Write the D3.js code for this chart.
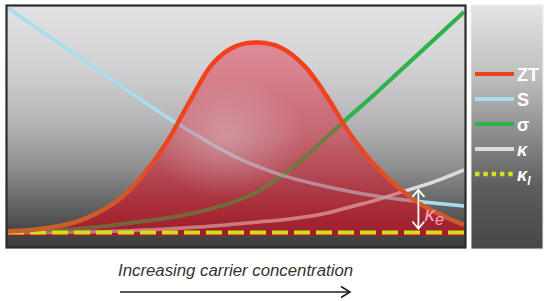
<!DOCTYPE html>
<html>
<head>
<meta charset="utf-8">
<script src="https://cdn.jsdelivr.net/npm/d3@7"></script>
<style>
  html, body { margin: 0; padding: 0; background: #fff; }
  svg { display: block; }
</style>
</head>
<body>
<div id="chart"></div>
<script>
'use strict';

// carrier concentration (arbitrary units, left -> right)
const conc = [0, 5, 10, 15, 20, 25, 30, 35, 40, 45, 50, 55, 60, 65, 70, 75, 80, 85, 90, 95, 100];

// values (arbitrary units, 0 = lattice kappa level)
const zt = [0.5, 1.1, 2.5, 4.7, 9.1, 15.8, 26.5, 40.8, 59, 75.5, 83, 84.6, 82.2, 74.2, 60.4, 43.9, 31, 21.2, 13.2, 7.8, 3.4];
const seebeck = [100, 93, 86, 79, 72, 65, 58, 51.2, 45, 39, 33.6, 29.2, 25.6, 22.8, 20.4, 18.3, 16.5, 15, 13.8, 12.8, 11.8];
const sigma = [0.3, 0.5, 1.1, 1.6, 2.5, 3.8, 5.1, 6.5, 8.3, 10.9, 14, 18.5, 25.2, 33.2, 42.6, 51.9, 60.8, 70.2, 79.5, 88.9, 98.2];
const kappa = [0, 0, 0.1, 0.2, 0.3, 0.7, 1.1, 1.6, 2.2, 2.9, 3.8, 4.7, 5.6, 6.9, 8.7, 11.4, 14, 17.2, 20.3, 23.8, 27.9];
const kappaL = 0;
const kappaEAt = 90; // where the kappa_e arrow sits

const legendKeys = ['ZT', 'S', 'σ', 'κ', 'κl'];
const axisLabel = 'Increasing carrier concentration';

const colors = {
    ZT: '#f0421d',
    S: '#a8dfea',
    'σ': '#2eb24b',
    'κ': '#dcdcdc',
    'κl': '#d3df1d'
};

const width = 550, height = 301;
const plot = {left: 7, top: 6, right: 465, bottom: 247};

const svg = d3.select('#chart').append('svg')
    .attr('width', width)
    .attr('height', height)
    .attr('font-family', 'Liberation Sans, Arial, sans-serif');

const defs = svg.append('defs');

// background of the plot panel
const bg = defs.append('linearGradient')
    .attr('id', 'bg-grad')
    .attr('x1', 0).attr('y1', 0).attr('x2', 0).attr('y2', 1);
[[0, '#e2e2e4'], [0.25, '#d2d2d4'], [0.5, '#b2b2b4'], [0.68, '#8c8c8e'],
 [0.8, '#6a6a6c'], [0.92, '#4a4a4c'], [1, '#3c3c3e']].forEach(s => {
    bg.append('stop').attr('offset', s[0]).attr('stop-color', s[1]);
});

const lg = defs.append('linearGradient')
    .attr('id', 'legend-grad')
    .attr('x1', 0).attr('y1', 0).attr('x2', 0).attr('y2', 1);
[[0, '#e4e4e4'], [0.3, '#bdbdbd'], [0.55, '#888'], [0.75, '#5c5c5c'], [1, '#474747']].forEach(s => {
    lg.append('stop').attr('offset', s[0]).attr('stop-color', s[1]);
});

const fillGrad = defs.append('linearGradient')
    .attr('id', 'zt-fill')
    .attr('gradientUnits', 'userSpaceOnUse')
    .attr('x1', 0).attr('y1', 45).attr('x2', 0).attr('y2', 235);
[[0, '#e02d45', 0.45], [0.5, '#dc2336', 0.52], [0.85, '#cc1424', 0.66], [1, '#c01020', 0.72]].forEach(s => {
    fillGrad.append('stop').attr('offset', s[0]).attr('stop-color', s[1]).attr('stop-opacity', s[2]);
});

const ztStroke = defs.append('linearGradient')
    .attr('id', 'zt-stroke')
    .attr('gradientUnits', 'userSpaceOnUse')
    .attr('x1', 0).attr('y1', 40).attr('x2', 0).attr('y2', 232);
[[0, '#f3401c'], [0.55, '#ee4420'], [1, '#c8602c']].forEach(s => {
    ztStroke.append('stop').attr('offset', s[0]).attr('stop-color', s[1]);
});

const glow = defs.append('radialGradient').attr('id', 'glow');
glow.append('stop').attr('offset', 0).attr('stop-color', '#e8f0f4').attr('stop-opacity', 0.35);
glow.append('stop').attr('offset', 1).attr('stop-color', '#e8f0f4').attr('stop-opacity', 0);

defs.append('clipPath').attr('id', 'plot-clip')
    .append('rect')
    .attr('x', plot.left).attr('y', plot.top)
    .attr('width', plot.right - plot.left).attr('height', plot.bottom - plot.top);

const x = d3.scaleLinear().domain([0, 100]).range([8, 464]);
const y = d3.scaleLinear().domain([-6, 100]).range([246, 8]);

const rows = conc.map((c, i) => ({c, zt: zt[i], s: seebeck[i], sigma: sigma[i], kappa: kappa[i]}));

const line = (key, curve) => d3.line()
    .x(d => x(d.c))
    .y(d => y(d[key]))
    .curve(curve || d3.curveMonotoneX);

const smooth = d3.curveCatmullRom.alpha(0.5);

const thinLines = [
    {key: 'kappa', color: colors['κ'], w: 3.5},
    {key: 'sigma', color: colors['σ'], w: 4},
    {key: 's', color: colors.S, w: 3.5}
];

// panel
svg.append('rect')
    .attr('x', plot.left).attr('y', plot.top)
    .attr('width', plot.right - plot.left).attr('height', plot.bottom - plot.top)
    .attr('fill', 'url(#bg-grad)');

const g = svg.append('g').attr('clip-path', 'url(#plot-clip)');

// lines under the ZT fill
thinLines.forEach(l => {
    g.append('path').datum(rows)
        .attr('d', line(l.key))
        .attr('fill', 'none').attr('stroke', l.color).attr('stroke-width', l.w);
});

// ZT fill
const area = d3.area()
    .x(d => x(d.c))
    .y0(y(kappaL - 1.5))
    .y1(d => y(d.zt))
    .curve(smooth);

g.append('clipPath').attr('id', 'zt-clip')
    .append('path').datum(rows).attr('d', area);

g.append('path').datum(rows)
    .attr('d', area)
    .attr('fill', 'url(#zt-fill)');

g.append('ellipse')
    .attr('clip-path', 'url(#zt-clip)')
    .attr('cx', x(48)).attr('cy', y(42))
    .attr('rx', 80).attr('ry', 60)
    .attr('fill', 'url(#glow)');

// faint copy so the lines show through the fill a bit more
thinLines.forEach(l => {
    g.append('path').datum(rows)
        .attr('d', line(l.key))
        .attr('fill', 'none').attr('stroke', l.color).attr('stroke-width', l.w)
        .attr('opacity', 0.3);
});

// kappa_l dashed line
g.append('line')
    .attr('x1', x(0)).attr('x2', x(100))
    .attr('y1', y(kappaL)).attr('y2', y(kappaL))
    .attr('stroke', colors['κl'])
    .attr('stroke-width', 4)
    .attr('stroke-dasharray', '16 6');

// ZT curve on top
g.append('path').datum(rows)
    .attr('d', line('zt', smooth))
    .attr('fill', 'none')
    .attr('stroke', 'url(#zt-stroke)')
    .attr('stroke-width', 4.5);

// kappa_e arrow
const ke = rows.find(d => d.c === kappaEAt);
const ax = x(ke.c), ayTop = y(ke.kappa) + 3, ayBot = y(kappaL) - 4;
g.append('line')
    .attr('x1', ax).attr('x2', ax).attr('y1', ayTop).attr('y2', ayBot)
    .attr('stroke', '#fff').attr('stroke-width', 1.8);
g.append('path')
    .attr('d', `M${ax - 6},${ayTop + 7}L${ax},${ayTop}L${ax + 6},${ayTop + 7}`)
    .attr('fill', 'none').attr('stroke', '#fff').attr('stroke-width', 1.8);
g.append('path')
    .attr('d', `M${ax - 6},${ayBot - 7}L${ax},${ayBot}L${ax + 6},${ayBot - 7}`)
    .attr('fill', 'none').attr('stroke', '#fff').attr('stroke-width', 1.8);

const keLabel = g.append('text')
    .attr('x', ax + 6).attr('y', ayBot - 8)
    .attr('fill', '#f9a6bc')
    .attr('font-size', 21)
    .attr('font-style', 'italic');
keLabel.append('tspan').text('κ');
keLabel.append('tspan').attr('dy', 4).attr('font-size', 16).text('e');

// frame
svg.append('rect')
    .attr('x', plot.left - 0.5).attr('y', plot.top - 0.5)
    .attr('width', plot.right - plot.left + 1).attr('height', plot.bottom - plot.top + 1)
    .attr('fill', 'none')
    .attr('stroke', '#2c2c2c')
    .attr('stroke-width', 2.2);

// legend panel
const legend = svg.append('g');
legend.append('rect')
    .attr('x', 471).attr('y', 5)
    .attr('width', 72).attr('height', 244)
    .attr('fill', 'url(#legend-grad)')
    .attr('stroke', '#ececec')
    .attr('stroke-width', 1);

const legendY = d3.scalePoint().domain(legendKeys).range([74, 174]);

legendKeys.forEach(k => {
    const ly = legendY(k);
    legend.append('line')
        .attr('x1', 475).attr('x2', 514)
        .attr('y1', ly).attr('y2', ly)
        .attr('stroke', colors[k])
        .attr('stroke-width', k === 'κl' ? 4.5 : 4)
        .attr('stroke-dasharray', k === 'κl' ? '4.5 3.8' : null);

    const t = legend.append('text')
        .attr('x', 517).attr('y', ly + 6.5)
        .attr('fill', '#fff')
        .attr('font-size', 18)
        .attr('font-weight', 'bold');
    if (k === 'κ' || k === 'κl') {
        t.attr('font-style', 'italic');
        t.append('tspan').text('κ');
        if (k === 'κl') t.append('tspan').attr('dy', 4).attr('font-size', 12).text('l');
    } else {
        t.text(k);
    }
});

// axis caption with arrow
svg.append('text')
    .attr('x', 118).attr('y', 276)
    .attr('fill', '#333')
    .attr('font-size', 16.8)
    .attr('font-style', 'italic')
    .text(axisLabel);

svg.append('line')
    .attr('x1', 120).attr('x2', 349)
    .attr('y1', 292).attr('y2', 292)
    .attr('stroke', '#1e1e1e').attr('stroke-width', 1.6);
svg.append('path')
    .attr('d', 'M341,286.5L350,292L341,297.5')
    .attr('fill', 'none').attr('stroke', '#1e1e1e').attr('stroke-width', 1.6);
</script>
</body>
</html>
